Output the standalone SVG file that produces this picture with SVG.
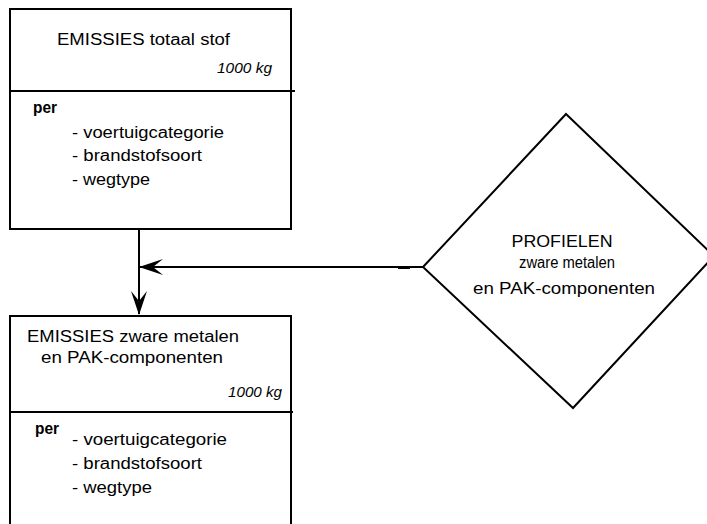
<svg xmlns="http://www.w3.org/2000/svg" width="707" height="524" viewBox="0 0 707 524">
<style>
.box{fill:none;stroke:#000;stroke-width:2}
.t{font-family:"Liberation Sans",Arial,sans-serif;font-size:16px;fill:#000}
.i{font-style:italic;font-size:14px}
.b{font-weight:bold;font-size:16px}
.c{fill:none;stroke:#000;stroke-width:2}
</style>
<defs>
<marker id="arr" viewBox="0 0 24 16" refX="23" refY="8" markerWidth="24" markerHeight="16" markerUnits="userSpaceOnUse" orient="auto">
<path d="M0,0 L24,8 L0,16 L10,8 Z" fill="#000"/>
</marker>
</defs>
<rect width="707" height="524" fill="#fff"/>
<g id="box1">
<rect class="box" x="10" y="9" width="281" height="220"/>
<line class="box" x1="10" y1="91" x2="295" y2="91"/>
<text class="t" x="57" y="45" textLength="173" lengthAdjust="spacingAndGlyphs">EMISSIES totaal stof</text>
<text class="t i" x="217" y="73" textLength="55" lengthAdjust="spacingAndGlyphs">1000 kg</text>
<text class="t b" x="33" y="113" textLength="24" lengthAdjust="spacingAndGlyphs">per</text>
<text class="t" x="72" y="138" textLength="152" lengthAdjust="spacingAndGlyphs">- voertuigcategorie</text>
<text class="t" x="72" y="161" textLength="130" lengthAdjust="spacingAndGlyphs">- brandstofsoort</text>
<text class="t" x="72" y="185" textLength="78" lengthAdjust="spacingAndGlyphs">- wegtype</text>
</g>
<g id="box2">
<rect class="box" x="10" y="316" width="281" height="230"/>
<line class="box" x1="10" y1="412" x2="293" y2="412"/>
<text class="t" x="27" y="342" textLength="212" lengthAdjust="spacingAndGlyphs">EMISSIES zware metalen</text>
<text class="t" x="41" y="363" textLength="182" lengthAdjust="spacingAndGlyphs">en PAK-componenten</text>
<text class="t i" x="228" y="397" textLength="54" lengthAdjust="spacingAndGlyphs">1000 kg</text>
<text class="t b" x="35" y="434" textLength="24" lengthAdjust="spacingAndGlyphs">per</text>
<text class="t" x="72" y="445" textLength="155" lengthAdjust="spacingAndGlyphs">- voertuigcategorie</text>
<text class="t" x="72" y="469" textLength="130" lengthAdjust="spacingAndGlyphs">- brandstofsoort</text>
<text class="t" x="72" y="493" textLength="80" lengthAdjust="spacingAndGlyphs">- wegtype</text>
</g>
<g id="profielen">
<path class="box" d="M566,114 L714,256 L573,408 L423,267 Z"/>
<text class="t" x="562" y="247" text-anchor="middle" textLength="101" lengthAdjust="spacingAndGlyphs">PROFIELEN</text>
<text class="t" x="567" y="268" text-anchor="middle" textLength="96" lengthAdjust="spacingAndGlyphs">zware metalen</text>
<text class="t" x="564" y="294" text-anchor="middle" textLength="182" lengthAdjust="spacingAndGlyphs">en PAK-componenten</text>
</g>
<g id="connectors">
<path class="c" d="M139,229 L139,314" marker-end="url(#arr)"/>
<path class="c" d="M423,267 L140,267" marker-end="url(#arr)"/>
<line x1="398" y1="267.5" x2="410" y2="267.5" stroke="#000" stroke-width="3"/>
</g>
</svg>
